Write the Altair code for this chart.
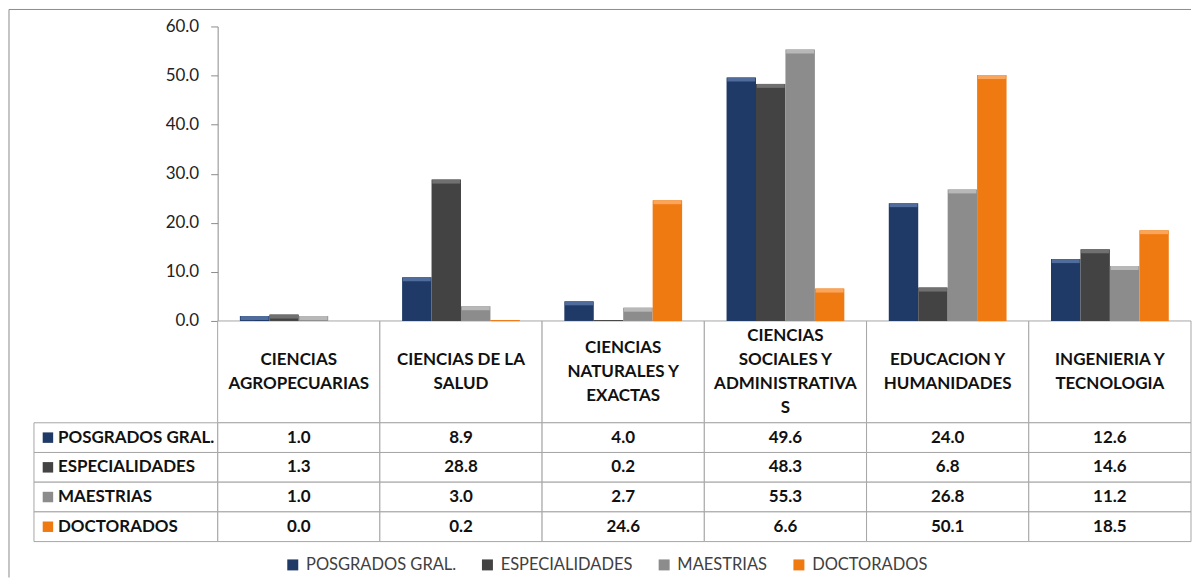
import altair as alt
import pandas as pd

categories = [
    "CIENCIAS AGROPECUARIAS",
    "CIENCIAS DE LA SALUD",
    "CIENCIAS NATURALES Y EXACTAS",
    "CIENCIAS SOCIALES Y ADMINISTRATIVAS",
    "EDUCACION Y HUMANIDADES",
    "INGENIERIA Y TECNOLOGIA",
]
header_labels = [
    "CIENCIAS\nAGROPECUARIAS",
    "CIENCIAS DE LA\nSALUD",
    "CIENCIAS\nNATURALES Y\nEXACTAS",
    "CIENCIAS\nSOCIALES Y\nADMINISTRATIVA\nS",
    "EDUCACION Y\nHUMANIDADES",
    "INGENIERIA Y\nTECNOLOGIA",
]
series = ["POSGRADOS GRAL.", "ESPECIALIDADES", "MAESTRIAS", "DOCTORADOS"]
posgrados = [1.0, 8.9, 4.0, 49.6, 24.0, 12.6]
especialidades = [1.3, 28.8, 0.2, 48.3, 6.8, 14.6]
maestrias = [1.0, 3.0, 2.7, 55.3, 26.8, 11.2]
doctorados = [0.0, 0.2, 24.6, 6.6, 50.1, 18.5]
y_ticks = [0, 10, 20, 30, 40, 50, 60]
colors = ["#1F3A66", "#434343", "#8C8C8C", "#F07A12"]
cap_colors = ["#4F6C9C", "#707070", "#B8B8B8", "#F9A55C"]

rows = []
for s, vals in zip(series, [posgrados, especialidades, maestrias, doctorados]):
    for c, v in zip(categories, vals):
        rows.append({"category": c, "series": s, "value": v})
df = pd.DataFrame(rows)
hdr = pd.DataFrame({"category": categories, "header": header_labels})
hdr["nlines"] = hdr["header"].str.count("\n") + 1
lab = pd.DataFrame({"series": series})
one = pd.DataFrame({"k": [0]})

FONT = "Lato"
GRID = "#A6A6A6"
W, H = 1184, 569
LINE_H = 24

x_scale = alt.Scale(domain=categories, range=[209, 1184], paddingInner=0, paddingOuter=0)
xenc = alt.X("category:N", scale=x_scale, axis=None, sort=categories)
xoff = alt.XOffset(
    "series:N",
    scale=alt.Scale(domain=series, paddingInner=0, paddingOuter=0.755),
    sort=series,
)
y_scale = alt.Scale(domain=[0, 60], range=[312, 17], nice=False)
color_scale = alt.Scale(domain=series, range=colors)
table_y = alt.Y(
    "series:N",
    scale=alt.Scale(domain=series, range=[414, 533], paddingInner=0, paddingOuter=0),
    axis=None,
    sort=series,
)

border_top = alt.Chart(one).mark_rule(color="#8C8C8C", strokeWidth=1).encode(
    x=alt.value(0), x2=alt.value(W), y=alt.value(0)
)
border_left = alt.Chart(one).mark_rule(color="#8C8C8C", strokeWidth=1).encode(
    x=alt.value(0), y=alt.value(0), y2=alt.value(H)
)

header_cells = alt.Chart(hdr).mark_rect(fill="white", stroke=GRID, strokeWidth=1).encode(
    x=xenc, y=alt.value(312), y2=alt.value(414)
)

header_layers = []
for n in sorted(hdr["nlines"].unique()):
    sub = hdr[hdr["nlines"] == n]
    header_layers.append(
        alt.Chart(sub).mark_text(
            font=FONT, fontSize=17, fontWeight="bold", color="#111111",
            lineBreak="\n", lineHeight=LINE_H, baseline="middle", align="center",
            dy=-(int(n) - 1) * LINE_H / 2,
        ).encode(x=xenc, y=alt.value(363), text="header:N")
    )

cells = alt.Chart(df).mark_rect(fill="white", stroke=GRID, strokeWidth=1).encode(
    x=xenc, y=table_y
)
cell_text = alt.Chart(df).mark_text(
    font=FONT, fontSize=17, fontWeight="bold", color="#111111"
).encode(x=xenc, y=table_y, text=alt.Text("value:Q", format=".1f"))

label_cells = alt.Chart(lab).mark_rect(fill="white", stroke=GRID, strokeWidth=1).encode(
    x=alt.value(25), x2=alt.value(209), y=table_y
)
label_sq = alt.Chart(lab).mark_square(size=110, opacity=1, filled=True).encode(
    x=alt.value(39), y=table_y,
    color=alt.Color("series:N", scale=color_scale, sort=series, legend=None),
)
label_text = alt.Chart(lab).mark_text(
    font=FONT, fontSize=17, fontWeight="bold", color="#111111", align="left"
).encode(x=alt.value(49), y=table_y, text="series:N")

bars = alt.Chart(df).mark_bar(strokeWidth=0).encode(
    x=xenc,
    xOffset=xoff,
    y=alt.Y(
        "value:Q",
        scale=y_scale,
        axis=alt.Axis(
            values=y_ticks, format=".1f", offset=-209, title=None, grid=False,
            domainColor="#8C8C8C", tickColor="#8C8C8C", tickSize=7, labelPadding=12,
            labelFont=FONT, labelFontSize=17, labelColor="#222222",
        ),
    ),
    color=alt.Color(
        "series:N", scale=color_scale, sort=series,
        legend=alt.Legend(
            orient="none", legendX=276, legendY=548, direction="horizontal",
            columns=4, title=None, symbolType="square", symbolSize=121,
            symbolStrokeWidth=0, labelFont=FONT, labelFontSize=16.5,
            labelColor="#404040", columnPadding=23, labelOffset=5, padding=0,
            labelLimit=0,
        ),
    ),
)

caps = alt.Chart(df).transform_filter("datum.value > 0.5").mark_tick(
    thickness=4, size=28, yOffset=2, opacity=1
).encode(
    x=xenc,
    xOffset=xoff,
    y=alt.Y("value:Q", scale=y_scale, axis=None),
    color=alt.Color(
        "series:N", scale=alt.Scale(domain=series, range=cap_colors), sort=series, legend=None
    ),
)

chart = alt.layer(
    border_top, border_left,
    header_cells, cells, label_cells,
    bars, caps,
    *header_layers, cell_text, label_sq, label_text,
).resolve_scale(y="independent", color="independent").properties(
    width=W, height=H, padding=0, background="white"
).configure_view(stroke=None)

chart.save("out.html", embed_options={"renderer": "svg", "actions": False})
